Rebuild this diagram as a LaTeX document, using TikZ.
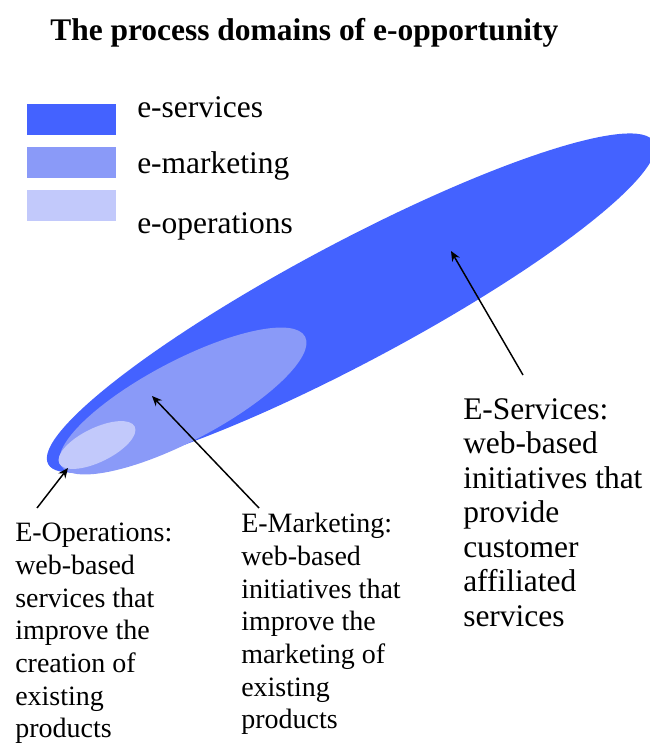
\documentclass[tikz,border=0pt]{standalone}
\usepackage{fontspec}
\setmainfont{Liberation Serif}
\usetikzlibrary{arrows.meta,positioning,calc}
\definecolor{svcblue}{RGB}{68,98,255}
\definecolor{mktblue}{RGB}{138,154,248}
\definecolor{opsblue}{RGB}{194,201,251}

\begin{document}
\begin{tikzpicture}[
    x=0.75pt, y=-0.75pt,
    keybox/.style={inner sep=0pt, minimum width=66.75pt, minimum height=23pt, anchor=north west},
    keytext/.style={font=\fontsize{23.6}{26}\selectfont, anchor=base west, inner sep=0pt},
    note/.style={align=left, anchor=north west, inner sep=0pt, font=\fontsize{21}{24.5}\selectfont},
    pointer/.style={-{Stealth[length=7.5pt, width=6.5pt]}, line width=1.1pt}
]
\useasboundingbox (0,0) rectangle (650,744);

\node[font=\bfseries\fontsize{23.6}{26}\selectfont, anchor=base west, inner sep=0pt] (title) at (50,40) {The process domains of e-opportunity};

% the three domains, largest first
\fill[svcblue, rotate around={28:(351,303)}] (351,303) ellipse [x radius=343, y radius=60];
\fill[mktblue, rotate around={27.8:(183,401)}] (183,401) ellipse [x radius=138, y radius=40];
\fill[opsblue, rotate around={26:(97,445)}] (97,445) ellipse [x radius=42, y radius=17];

% key
\foreach \i/\col/\top/\base/\txt in {1/svcblue/104/117/e-services, 2/mktblue/147/173/e-marketing, 3/opsblue/190/233/e-operations} {
  \node[keybox, fill=\col] (key\i) at (27,\top) {};
  \node[keytext] (keytxt\i) at (137,\base) {\txt};
}

\coordinate (svc-spot) at (451,251);
\coordinate (mkt-spot) at (152,396);
\coordinate (ops-spot) at (68,468);

\node[note, font=\fontsize{23.6}{25.9}\selectfont] (svc-note) at (463,398) {E-Services:\\web-based\\initiatives that\\provide\\customer\\affiliated\\services};
\node[note] (mkt-note) at (241,513) {E-Marketing:\\web-based\\initiatives that\\improve the\\marketing of\\existing\\products};
\node[note] (ops-note) at (15,523) {E-Operations:\\web-based\\services that\\improve the\\creation of\\existing\\products};

\draw[pointer] ([shift={(60,-23)}]svc-note.north west) -- (svc-spot);
\draw[pointer] ([shift={(18,-5)}]mkt-note.north west) -- (mkt-spot);
\draw[pointer] ([shift={(22,-15)}]ops-note.north west) -- (ops-spot);
\end{tikzpicture}
\end{document}
